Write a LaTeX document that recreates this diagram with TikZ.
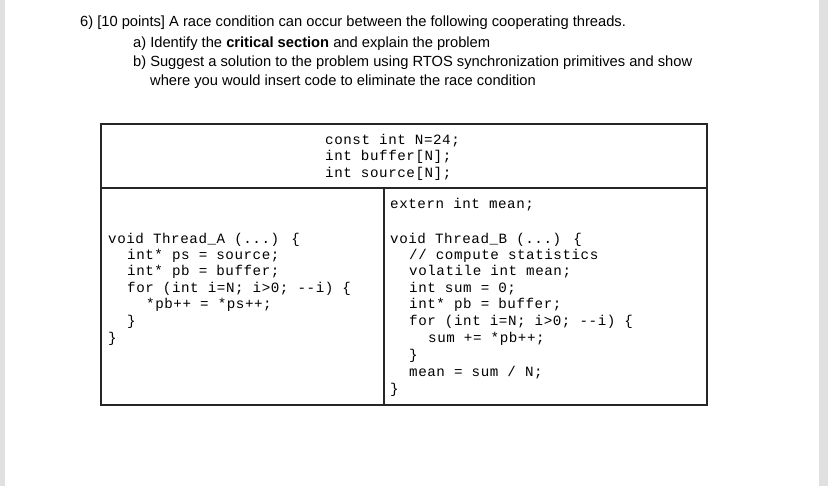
\documentclass[tikz,border=0pt]{standalone}
\usepackage{fontspec}
\setmainfont{Liberation Sans}
\newfontfamily\codefont[LetterSpace=4]{Liberation Mono}
\begin{document}
\begin{tikzpicture}[x=1pt,y=-1pt,
  hd/.style={anchor=base west,inner sep=0pt,font=\fontsize{14.7}{17}\selectfont},
  cd/.style={anchor=base west,inner sep=0pt,font=\codefont\fontsize{14.2}{16}\selectfont},
  tl/.style={line width=1.1pt,draw=black!85}]
\useasboundingbox (0,0) rectangle (828,486);
\fill[black!12] (0,0) rectangle (5,486);
\fill[black!12] (819,0) rectangle (828,486);
\node[hd] (h1) at (80,27) {6)\hspace{4pt}[10 points] A race condition can occur between the following cooperating threads.};
\node[hd] (h2) at (133,48) {a)\hspace{4pt}Identify the \textbf{critical section} and explain the problem};
\node[hd] (h3) at (133,67) {b)\hspace{4pt}Suggest a solution to the problem using RTOS synchronization primitives and show};
\node[hd] (h4) at (150,86) {where you would insert code to eliminate the race condition};
\draw[tl] (101,124) rectangle (707,405);
\draw[tl] (101,188) -- (707,188);
\draw[tl] (384,188) -- (384,405);
\node[cd] (c1) at (325,145) {const int N=24;};
\node[cd] (c2) at (325,161) {int buffer[N];};
\node[cd] (c3) at (325,178) {int source[N];};
\node[cd] (e1) at (390,209) {extern int mean;};
\node[cd] (a1) at (108,244) {void Thread\_A (...) \{};
\node[cd] (a2) at (127,260) {int* ps = source;};
\node[cd] (a3) at (127,276) {int* pb = buffer;};
\node[cd] (a4) at (127,293) {for (int i=N; i>0; --i) \{};
\node[cd] (a5) at (146,309) {*pb++ = *ps++;};
\node[cd] (a6) at (127,326) {\}};
\node[cd] (a7) at (108,343) {\}};
\node[cd] (b1) at (390,244) {void Thread\_B (...) \{};
\node[cd] (b2) at (409,260) {// compute statistics};
\node[cd] (b3) at (409,276) {volatile int mean;};
\node[cd] (b4) at (409,293) {int sum = 0;};
\node[cd] (b5) at (409,309) {int* pb = buffer;};
\node[cd] (b6) at (409,326) {for (int i=N; i>0; --i) \{};
\node[cd] (b7) at (428,343) {sum += *pb++;};
\node[cd] (b8) at (409,360) {\}};
\node[cd] (b9) at (409,377) {mean = sum / N;};
\node[cd] (b10) at (390,394) {\}};
\end{tikzpicture}
\end{document}
